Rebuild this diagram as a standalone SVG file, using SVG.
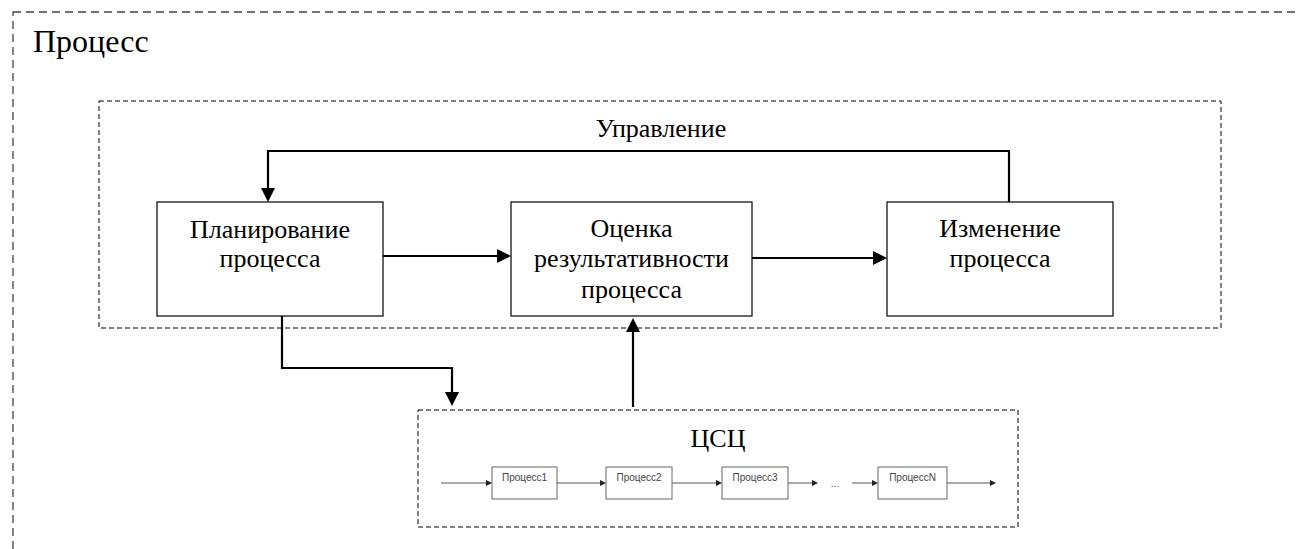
<svg xmlns="http://www.w3.org/2000/svg" width="1298" height="549" viewBox="0 0 1298 549">
  <style>
    .serif { font-family: "Liberation Serif", "Times New Roman", serif; fill: #000; }
    .big { font-size: 32px; }
    .lbl { font-size: 26px; text-anchor: middle; }
    .small { font-family: "Liberation Sans", Arial, sans-serif; font-size: 10px; fill: #444; text-anchor: middle; }
    .box { fill: #fff; stroke: #000; stroke-width: 1.2; }
    .sbox { fill: #fff; stroke: #666; stroke-width: 1; }
    .frame { fill: none; stroke: #444; stroke-width: 1.3; stroke-dasharray: 8 5; }
    .group { fill: none; stroke: #000; stroke-width: 1; stroke-dasharray: 5 3; }
    .conn { fill: none; stroke: #000; stroke-width: 2.2; }
    .sconn { fill: none; stroke: #555; stroke-width: 1; }
  </style>
  <defs>
    <marker id="ah" viewBox="0 0 14 14" refX="0" refY="7" markerWidth="14" markerHeight="14" markerUnits="userSpaceOnUse" orient="auto">
      <path d="M0,0 L14,7 L0,14 z" fill="#000"/>
    </marker>
    <marker id="sah" viewBox="0 0 6 6" refX="0" refY="3" markerWidth="6" markerHeight="6" markerUnits="userSpaceOnUse" orient="auto">
      <path d="M0,0 L6,3 L0,6 z" fill="#222"/>
    </marker>
  </defs>

  <g id="process-frame">
    <rect class="frame" x="13" y="12" width="1320" height="580"/>
    <text class="serif big" x="33" y="52">Процесс</text>
  </g>

  <g id="management">
    <rect class="group" x="99" y="101" width="1122" height="227"/>
    <text class="serif lbl" x="661" y="137">Управление</text>
  </g>

  <g id="planning">
    <rect class="box" x="157" y="202" width="226" height="114"/>
    <text class="serif lbl" x="270" y="238">Планирование</text>
    <text class="serif lbl" x="270" y="267">процесса</text>
  </g>

  <g id="evaluation">
    <rect class="box" x="511" y="202" width="241" height="114"/>
    <text class="serif lbl" x="631.5" y="237">Оценка</text>
    <text class="serif lbl" x="631.5" y="267">результативности</text>
    <text class="serif lbl" x="631.5" y="298">процесса</text>
  </g>

  <g id="change">
    <rect class="box" x="887" y="202" width="226" height="114"/>
    <text class="serif lbl" x="1000" y="237">Изменение</text>
    <text class="serif lbl" x="1000" y="267">процесса</text>
  </g>

  <g id="csc">
    <rect class="group" x="418" y="410" width="600" height="117"/>
    <text class="serif lbl" x="718" y="447">ЦСЦ</text>
  </g>

  <g id="proc1">
    <rect class="sbox" x="492" y="467" width="65" height="32"/>
    <text class="small" x="524.5" y="481">Процесс1</text>
  </g>
  <g id="proc2">
    <rect class="sbox" x="606" y="467" width="66" height="32"/>
    <text class="small" x="639" y="481">Процесс2</text>
  </g>
  <g id="proc3">
    <rect class="sbox" x="722" y="467" width="66" height="32"/>
    <text class="small" x="755" y="481">Процесс3</text>
  </g>
  <g id="ellipsis">
    <text class="small" x="835" y="487">...</text>
  </g>
  <g id="procN">
    <rect class="sbox" x="878" y="467" width="69" height="32"/>
    <text class="small" x="912.5" y="481">ПроцессN</text>
  </g>

  <g id="connectors">
    <path class="conn" d="M1009,202 V151 H268 V188" marker-end="url(#ah)"/>
    <path class="conn" d="M383,256 H497" marker-end="url(#ah)"/>
    <path class="conn" d="M752,258 H873" marker-end="url(#ah)"/>
    <path class="conn" d="M282,316 V368 H452 V392" marker-end="url(#ah)"/>
    <path class="conn" d="M633,407 V332" marker-end="url(#ah)"/>
    <path class="sconn" d="M441,483 H486" marker-end="url(#sah)"/>
    <path class="sconn" d="M557,483 H600" marker-end="url(#sah)"/>
    <path class="sconn" d="M672,483 H716" marker-end="url(#sah)"/>
    <path class="sconn" d="M788,483 H812" marker-end="url(#sah)"/>
    <path class="sconn" d="M852,483 H872" marker-end="url(#sah)"/>
    <path class="sconn" d="M947,483 H990" marker-end="url(#sah)"/>
  </g>
</svg>
